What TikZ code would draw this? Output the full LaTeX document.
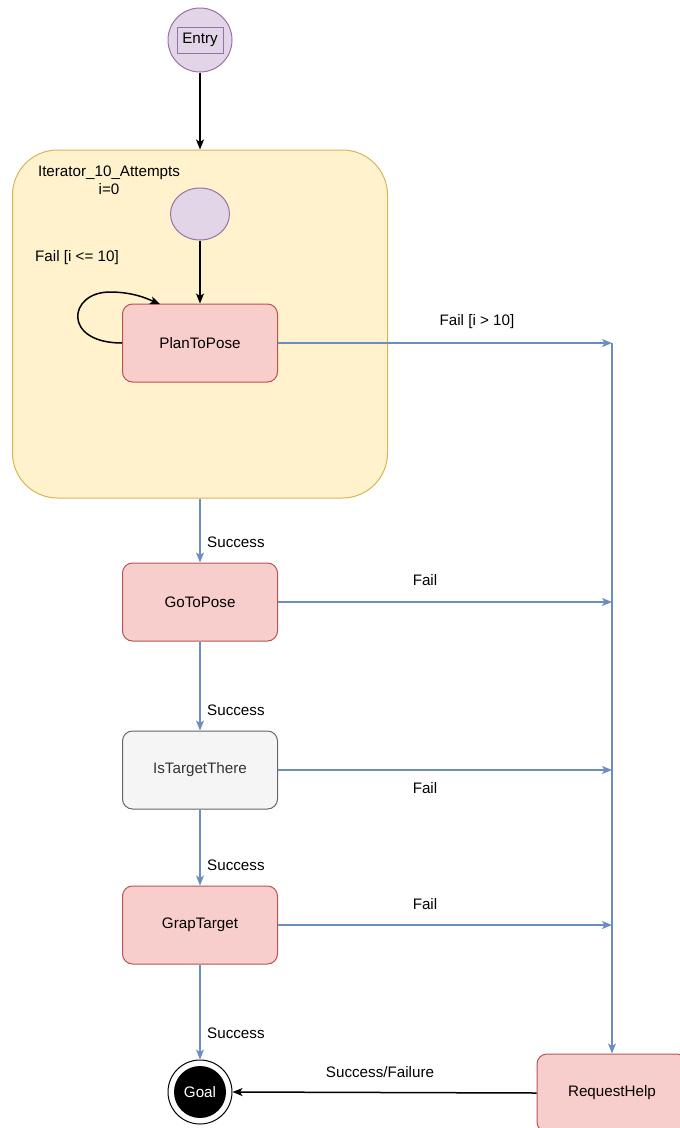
\documentclass[tikz,border=0pt]{standalone}
\usepackage{fontspec}
\setmainfont{Liberation Sans}
\usetikzlibrary{arrows.meta,shapes.geometric}
\definecolor{lilacFill}{HTML}{E1D5E7}
\definecolor{lilacLine}{HTML}{9673A6}
\definecolor{sandFill}{HTML}{FFF2CC}
\definecolor{sandLine}{HTML}{D6B656}
\definecolor{roseFill}{HTML}{F8CECC}
\definecolor{roseLine}{HTML}{B85450}
\definecolor{greyFill}{HTML}{F5F5F5}
\definecolor{greyLine}{HTML}{666666}
\definecolor{greyText}{HTML}{333333}
\definecolor{flowBlue}{HTML}{6C8EBF}
\begin{document}
\begin{tikzpicture}[x=1pt,y=-1pt,
  font=\fontsize{15.2}{18}\selectfont,
  tip/.style={-{Stealth[length=10pt,width=8pt,inset=2.5pt]}},
  statebox/.style={rectangle, rounded corners=10pt, draw=roseLine, fill=roseFill,
    line width=1pt, minimum width=155pt, minimum height=78pt, inner sep=0pt},
  flow/.style={tip, draw=flowBlue, line width=1.3pt},
  blackflow/.style={tip, draw=black, line width=1.5pt},
  lbl/.style={inner sep=0pt}]
\useasboundingbox (0,0) rectangle (680,1128);
\clip (0,0) rectangle (680,1128);

% entry pseudo-state
\node[circle, draw=lilacLine, fill=lilacFill, line width=1pt, minimum size=64pt, inner sep=0pt] (entry) at (200,40) {};
\node[draw=lilacLine, line width=1pt, minimum width=46pt, minimum height=26pt, inner sep=0pt] (entrytext) at (200,40) {Entry};

% iterator container
\node[rectangle, rounded corners=45pt, draw=sandLine, fill=sandFill, line width=1pt,
  minimum width=375pt, minimum height=348pt, inner sep=0pt] (iter) at (200,324) {};
\node[lbl, align=center] (itertitle) at (109,180) {Iterator\_10\_Attempts\\i=0};

% initial state inside the container
\node[ellipse, draw=lilacLine, fill=lilacFill, line width=1pt, minimum width=59pt, minimum height=52pt, inner sep=0pt] (init) at (200,214) {};

% states
\node[statebox] (plan) at (200,343) {PlanToPose};
\node[statebox] (go) at (200,602) {GoToPose};
\node[statebox, draw=greyLine, fill=greyFill, text=greyText] (check) at (200,770) {IsTargetThere};
\node[statebox] (grab) at (200,925) {GrapTarget};
\node[statebox, minimum width=150pt] (help) at (612,1093) {RequestHelp};

% final state
\node[circle, draw=black, fill=white, line width=1pt, minimum size=64pt, inner sep=0pt] (goal) at (200,1092) {};
\node[circle, fill=black, text=white, minimum size=52pt, inner sep=0pt] (goalcore) at (200,1092) {Goal};

% failure collector line
\coordinate (j1) at (612,343);
\coordinate (j2) at (612,602);
\coordinate (j3) at (612,770);
\coordinate (j4) at (612,925);
\coordinate (looptop) at (110,292);
\coordinate (loopend) at (160,304);

% black transitions
\draw[blackflow] (entry) -- (iter.north);
\draw[blackflow] (init) -- (plan.north);
\draw[black, line width=1.5pt, tip] (plan.west) .. controls (62,343) and (68,292) .. (looptop)
  .. controls (135,292) and (150,300) .. (loopend);
\node[lbl] (retry) at (77,258) {Fail [i <= 10]};
\draw[blackflow] (help.west) -- (goal.east);
\node[lbl] (hl) at (380,1072) {Success/Failure};

% success chain
\draw[flow] (iter.south) -- (go.north);
\node[lbl, anchor=west] (s1) at (207,542) {Success};
\draw[flow] (go.south) -- (check.north);
\node[lbl, anchor=west] (s2) at (207,710) {Success};
\draw[flow] (check.south) -- (grab.north);
\node[lbl, anchor=west] (s3) at (207,865) {Success};
\draw[flow] (grab.south) -- (goal.north);
\node[lbl, anchor=west] (s4) at (207,1033) {Success};

% failure transitions
\draw[flow] (plan.east) -- (j1);
\node[lbl] (f1) at (477,322) {Fail [i > 10]};
\draw[flow] (go.east) -- (j2);
\node[lbl] (f2) at (425,580) {Fail};
\draw[flow] (check.east) -- (j3);
\node[lbl] (f3) at (425,788) {Fail};
\draw[flow] (grab.east) -- (j4);
\node[lbl] (f4) at (425,904) {Fail};
\draw[flow] (j1) -- (help.north);
\end{tikzpicture}
\end{document}
